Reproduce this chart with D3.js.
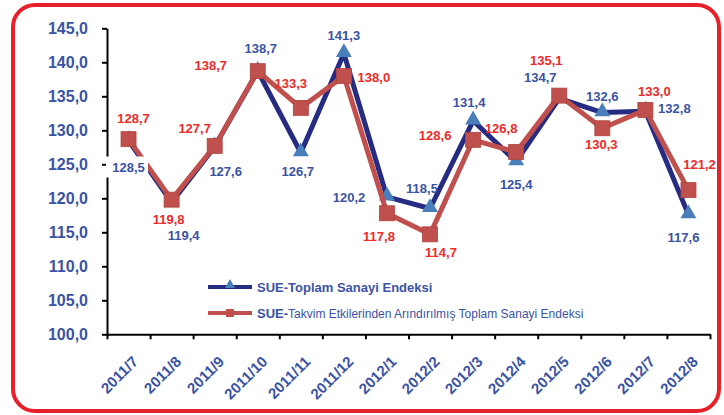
<!DOCTYPE html>
<html>
<head>
<meta charset="utf-8">
<script src="https://cdn.jsdelivr.net/npm/d3@7"></script>
<style>
  body { margin: 0; background: #fff; }
  svg { display: block; font-family: "Liberation Sans", Arial, sans-serif; }
</style>
</head>
<body>
<div id="chart"></div>
<script>
// data
const months = ["2011/7", "2011/8", "2011/9", "2011/10", "2011/11", "2011/12", "2012/1", "2012/2", "2012/3", "2012/4", "2012/5", "2012/6", "2012/7", "2012/8"];
const toplam = [128.5, 119.4, 127.6, 138.7, 126.7, 141.3, 120.2, 118.5, 131.4, 125.4, 134.7, 132.6, 132.8, 117.6];
const takvim = [128.7, 119.8, 127.7, 138.7, 133.3, 138.0, 117.8, 114.7, 128.6, 126.8, 135.1, 130.3, 133.0, 121.2];
const yTicks = [100, 105, 110, 115, 120, 125, 130, 135, 140, 145];
const seriesNames = ["SUE-Toplam Sanayi Endeksi", "Takvim Etkilerinden Arındırılmış Toplam Sanayi Endeksi"];

// label offsets (layout only)
const blueOff = [[0, 27], [12, 33], [11, 25], [3, -23], [-3, 19], [0, -18], [-38, 0], [-8, -20], [-4, -18], [0, 23], [-19, -21], [0, -16], [29, -3], [-5, 23]];
const redOff = [[5, -21], [-3, 20], [-20, -18], [-47, -6], [-10, -25], [30, 1], [-8, 23], [11, 18], [-38, -5], [-15, -24], [-13, -35], [-1, 16], [9, -19], [11, -26]];

const width = 724, height = 415;
const margin = { top: 28.3, right: 14, bottom: 80.7, left: 107 };

const blue = "#3A53A4", navy = "#262C82", tri = "#4A7EBB", red = "#C0504D", redText = "#EE2A2A";

const svg = d3.select("#chart").append("svg")
    .attr("width", width)
    .attr("height", height);

// frame
svg.append("rect")
    .attr("x", 13).attr("y", 5)
    .attr("width", 706).attr("height", 406)
    .attr("rx", 22)
    .attr("fill", "#fff")
    .attr("stroke", "#E8202A")
    .attr("stroke-width", 4);

// scales
const x = d3.scaleBand()
    .domain(months)
    .range([margin.left, width - margin.right]);
const xEdge = d3.scaleLinear()
    .domain([0, months.length])
    .range([margin.left, width - margin.right]);
const y = d3.scaleLinear()
    .domain([100, 145])
    .range([height - margin.bottom, margin.top]);
const cx = d => x(d) + x.bandwidth() / 2;

// axes
const yAxis = svg.append("g")
    .attr("transform", `translate(${margin.left},0)`)
    .call(d3.axisLeft(y).tickValues(yTicks).tickSize(5).tickSizeOuter(0).tickPadding(14)
        .tickFormat(d => d3.format(".1f")(d).replace(".", ",")));
yAxis.selectAll("text")
    .attr("fill", blue)
    .style("font-size", "16px")
    .style("font-weight", "bold");

const xAxis = svg.append("g")
    .attr("transform", `translate(0,${y(100)})`)
    .call(d3.axisBottom(xEdge).tickValues(d3.range(months.length + 1)).tickSize(5).tickSizeOuter(0).tickFormat(""));

svg.selectAll(".domain, .tick line")
    .attr("stroke", "#000")
    .attr("stroke-width", 2);

svg.append("g")
    .selectAll("text")
    .data(months)
    .join("text")
    .attr("transform", d => `translate(${cx(d) + 3},355) rotate(-45)`)
    .attr("text-anchor", "end")
    .attr("dy", "0.71em")
    .attr("fill", blue)
    .style("font-size", "15px")
    .style("font-weight", "bold")
    .text(d => d);

// lines
const line = d3.line()
    .x((d, i) => cx(months[i]))
    .y(d => y(d));

svg.append("path")
    .datum(toplam)
    .attr("d", line)
    .attr("fill", "none")
    .attr("stroke", navy)
    .attr("stroke-width", 5)
    .attr("stroke-linejoin", "round");

const triangle = d3.symbol().type(d3.symbolTriangle).size(110);
svg.append("g")
    .selectAll("path")
    .data(toplam)
    .join("path")
    .attr("d", triangle)
    .attr("transform", (d, i) => `translate(${cx(months[i])},${y(d) - 1})`)
    .attr("fill", tri);

svg.append("path")
    .datum(takvim)
    .attr("d", line)
    .attr("fill", "none")
    .attr("stroke", red)
    .attr("stroke-width", 5)
    .attr("stroke-linejoin", "round");

svg.append("g")
    .selectAll("rect")
    .data(takvim)
    .join("rect")
    .attr("x", (d, i) => cx(months[i]) - 7.5)
    .attr("y", d => y(d) - 7.5)
    .attr("width", 15)
    .attr("height", 15)
    .attr("fill", red)
    .attr("stroke", "#B04440")
    .attr("stroke-width", 0.8);

// white box behind first blue label (breaks the axis)
svg.append("rect")
    .attr("x", margin.left - 1)
    .attr("y", y(toplam[0]) + blueOff[0][1] - 11)
    .attr("width", 42)
    .attr("height", 21)
    .attr("fill", "#fff");

// data labels
const fmt = v => d3.format(".1f")(v).replace(".", ",");
svg.append("g")
    .selectAll("text")
    .data(toplam)
    .join("text")
    .attr("x", (d, i) => cx(months[i]) + blueOff[i][0])
    .attr("y", (d, i) => y(d) + blueOff[i][1])
    .attr("dy", "0.36em")
    .attr("text-anchor", "middle")
    .attr("fill", blue)
    .style("font-size", "13px")
    .style("font-weight", "bold")
    .text(fmt);

svg.append("g")
    .selectAll("text")
    .data(takvim)
    .join("text")
    .attr("x", (d, i) => cx(months[i]) + redOff[i][0])
    .attr("y", (d, i) => y(d) + redOff[i][1])
    .attr("dy", "0.36em")
    .attr("text-anchor", "middle")
    .attr("fill", redText)
    .style("font-size", "13px")
    .style("font-weight", "bold")
    .text(fmt);

// legend
const legend = svg.append("g").attr("transform", "translate(208,0)");
legend.append("line")
    .attr("x1", 0).attr("x2", 44).attr("y1", 287).attr("y2", 287)
    .attr("stroke", navy).attr("stroke-width", 4);
legend.append("path")
    .attr("d", d3.symbol().type(d3.symbolTriangle).size(45))
    .attr("transform", "translate(22,285)")
    .attr("fill", tri);
legend.append("text")
    .attr("x", 49).attr("y", 292)
    .attr("fill", blue)
    .style("font-size", "13px")
    .style("font-weight", "bold")
    .text(seriesNames[0]);

legend.append("line")
    .attr("x1", 0).attr("x2", 44).attr("y1", 313).attr("y2", 313)
    .attr("stroke", red).attr("stroke-width", 4);
legend.append("rect")
    .attr("x", 18).attr("y", 309).attr("width", 8).attr("height", 8)
    .attr("fill", red);
const t2 = legend.append("text")
    .attr("x", 49).attr("y", 318)
    .attr("fill", blue);
t2.append("tspan")
    .style("font-size", "13px")
    .style("font-weight", "bold")
    .text("SUE-");
t2.append("tspan")
    .style("font-size", "12px")
    .text(seriesNames[1]);
</script>
</body>
</html>
